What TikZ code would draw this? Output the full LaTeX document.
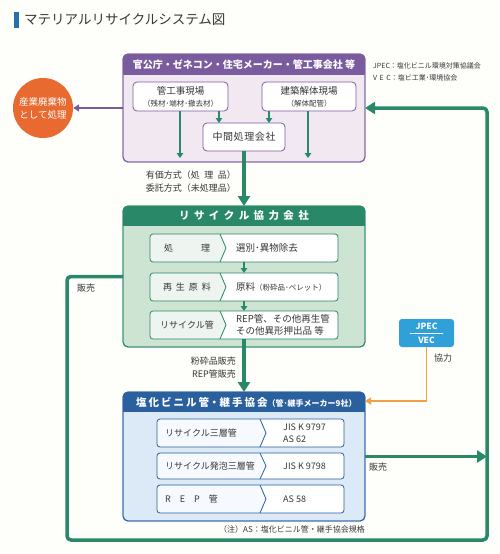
\documentclass[tikz,border=0pt]{standalone}
\usepackage{fontspec}
\setmainfont{Noto Sans CJK JP}
\usetikzlibrary{arrows.meta, positioning, calc}

\definecolor{bg}{RGB}{254,254,251}
\definecolor{txt}{RGB}{55,55,55}
\definecolor{titleblue}{RGB}{40,110,170}
\definecolor{purpleD}{RGB}{122,92,158}
\definecolor{purpleL}{RGB}{242,232,242}
\definecolor{greenD}{RGB}{40,136,104}
\definecolor{greenL}{RGB}{206,228,211}
\definecolor{rowL}{RGB}{238,244,239}
\definecolor{blueD}{RGB}{42,96,158}
\definecolor{blueL}{RGB}{220,234,247}
\definecolor{blueR}{RGB}{246,250,254}
\definecolor{orangeC}{RGB}{232,106,48}
\definecolor{orangeA}{RGB}{240,160,70}
\definecolor{jpecblue}{RGB}{48,160,216}

\tikzset{
  grp/.style={draw, line width=0.9pt, rounded corners=5pt, inner sep=0pt, outer sep=0pt},
  hdr/.style={text=white, inner sep=0pt, font=\fontsize{10.5}{12}\selectfont\bfseries},
  itembox/.style={draw=purpleD, fill=white, line width=0.8pt, rounded corners=4pt, align=center,
    inner sep=0pt, outer sep=0pt, text=txt, font=\fontsize{9.5}{12}\selectfont},
  lbl/.style={text=txt, inner sep=0pt, font=\fontsize{9}{13}\selectfont},
  flowarrow/.style={draw=greenD, line width=1.4pt, -{Triangle[length=5pt,width=6.5pt]}},
  bigflow/.style={draw=greenD, line width=3.5pt, -{Triangle[length=10pt,width=12pt]}},
  rowline/.style={line width=0.8pt, rounded corners=3pt}
}

\begin{document}
\begin{tikzpicture}[x=1pt, y=-1pt]
\useasboundingbox (0,0) rectangle (500,554);
\fill[bg] (0,0) rectangle (500,554);

% Title
\fill[titleblue] (14,12) rectangle (19,28);
\node[anchor=west, inner sep=0pt, text=txt, font=\fontsize{13.5}{15}\selectfont] (title) at (24,20) {マテリアルリサイクルシステム図};

% Legend
\node[lbl, anchor=west, align=left, font=\fontsize{7}{12}\selectfont] (legend) at (373,72)
  {JPEC：塩化ビニル環境対策協議会\\V\hspace{2.5pt}E\hspace{2.5pt}C：塩ビ工業･環境協会};

% Top group
\node[grp, draw=purpleD, fill=purpleL, minimum width=242pt, minimum height=108pt] (topbox) at (244,108) {};
\begin{scope}
  \clip[rounded corners=5pt] (topbox.north west) rectangle (topbox.south east);
  \fill[purpleD] (topbox.north west) rectangle ([yshift=-21pt]topbox.north east);
\end{scope}
\draw[purpleD, line width=0.9pt, rounded corners=5pt] (topbox.north west) rectangle (topbox.south east);
\node[hdr, font=\fontsize{10}{12}\selectfont\bfseries] (toptitle) at ([yshift=-10.5pt]topbox.north) {官公庁・ゼネコン・住宅メーカー・管工事会社 等};

\node[itembox, minimum width=95pt, minimum height=29pt] (genba) at (180.5,96.5)
  {管工事現場\\{\fontsize{7.5}{9}\selectfont （残材･端材･撤去材）}};
\node[itembox, minimum width=94pt, minimum height=29pt] (kaitai) at (309,96.5)
  {建築解体現場\\{\fontsize{7.5}{9}\selectfont （解体配管）}};
\node[itembox, minimum width=82pt, minimum height=28pt, font=\fontsize{10}{12}\selectfont] (chukan) at (244,137)
  {中\hspace{0.6pt}間\hspace{0.6pt}処\hspace{0.6pt}理\hspace{0.6pt}会\hspace{0.6pt}社};

% Waste circle
\node[circle, fill=orangeC, minimum size=60pt, inner sep=0pt, text=white, align=center,
  font=\fontsize{9.5}{13}\selectfont] (sanpai) at (43,108) {産業廃棄物\\として処理};

% Recycle company group
\node[grp, draw=greenD, fill=greenL, minimum width=242pt, minimum height=141pt] (recbox) at (244,276.5) {};
\begin{scope}
  \clip[rounded corners=5pt] (recbox.north west) rectangle (recbox.south east);
  \fill[greenD] (recbox.north west) rectangle ([yshift=-20pt]recbox.north east);
\end{scope}
\draw[greenD, line width=0.9pt, rounded corners=5pt] (recbox.north west) rectangle (recbox.south east);
\node[hdr] (rectitle) at ([yshift=-10pt]recbox.north)
  {リ\hspace{4.4pt}サ\hspace{4.4pt}イ\hspace{4.4pt}ク\hspace{4.4pt}ル\hspace{4.4pt}協\hspace{4.4pt}力\hspace{4.4pt}会\hspace{4.4pt}社};

\foreach \n/\y in {r1/248, r2/287, r3/325} {
  \node[minimum width=188pt, minimum height=28pt, inner sep=0pt, outer sep=0pt] (\n) at (244,\y) {};
  \begin{scope}
    \clip[rounded corners=3pt] (\n.north west) rectangle (\n.south east);
    \fill[white] (\n.north west) rectangle (\n.south east);
    \fill[rowL] (\n.north west) -- (220,\y-14) -- (226,\y) -- (220,\y+14) -- (\n.south west) -- cycle;
  \end{scope}
  \draw[greenD, line width=0.8pt] (220,\y-14) -- (226,\y) -- (220,\y+14);
  \draw[greenD, rowline] (\n.north west) rectangle (\n.south east);
}
\node[lbl] (r1a) at (187,248) {処\hspace{28pt}理};
\node[lbl] (r2a) at (187,287) {再\hspace{4pt}生\hspace{4pt}原\hspace{4pt}料};
\node[lbl] (r3a) at (187,325) {リサイクル管};
\node[lbl, anchor=west, font=\fontsize{9.5}{12}\selectfont] (r1b) at (236,248) {選別･異物除去};
\node[lbl, anchor=west, font=\fontsize{9.5}{12}\selectfont] (r2b) at (236,287) {原料{\fontsize{7.5}{9}\selectfont （粉砕品･ペレット）}};
\node[lbl, anchor=west, align=left, font=\fontsize{9.5}{12}\selectfont] (r3b) at (236,325) {REP管、その他再生管\\その他異形押出品 等};

% Pipe association group
\node[grp, draw=blueD, fill=blueL, minimum width=242pt, minimum height=129pt] (pipebox) at (244,456.5) {};
\begin{scope}
  \clip[rounded corners=5pt] (pipebox.north west) rectangle (pipebox.south east);
  \fill[blueD] (pipebox.north west) rectangle ([yshift=-20pt]pipebox.north east);
\end{scope}
\draw[blueD, line width=0.9pt, rounded corners=5pt] (pipebox.north west) rectangle (pipebox.south east);
\node[hdr, anchor=west] (pipetitle) at (136,402)
  {塩\hspace{2pt}化\hspace{2pt}ビ\hspace{2pt}ニ\hspace{2pt}ル\hspace{2pt}管・継\hspace{2pt}手\hspace{2pt}協\hspace{2pt}会{\fontsize{8}{9}\selectfont （管･継手メーカー9社）}};

\foreach \n/\y/\h in {p1/433/28, p2/466/26, p3/499/28} {
  \node[minimum width=187pt, minimum height=\h pt, inner sep=0pt, outer sep=0pt] (\n) at (250.5,\y) {};
  \begin{scope}
    \clip[rounded corners=3pt] (\n.north west) rectangle (\n.south east);
    \fill[white] (\n.north west) rectangle (\n.south east);
    \fill[blueR] (\n.north west) -- (260,\y-\h/2) -- (266,\y) -- (260,\y+\h/2) -- (\n.south west) -- cycle;
  \end{scope}
  \draw[blueD, line width=0.8pt] (260,\y-\h/2) -- (266,\y) -- (260,\y+\h/2);
  \draw[blueD, rowline] (\n.north west) rectangle (\n.south east);
}
\node[lbl, anchor=west] (p1a) at (165,433) {リサイクル三層管};
\node[lbl, anchor=west] (p2a) at (165,466) {リサイクル発泡三層管};
\node[lbl, anchor=west] (p3a) at (165,499) {R\hspace{9pt}E\hspace{9pt}P\hspace{9pt}管};
\node[lbl, anchor=west, align=left, font=\fontsize{9}{11.5}\selectfont] (p1b) at (283,433) {JIS K 9797\\AS 62};
\node[lbl, anchor=west, font=\fontsize{9}{11}\selectfont] (p2b) at (283,466) {JIS K 9798};
\node[lbl, anchor=west, font=\fontsize{9}{11}\selectfont] (p3b) at (283,499) {AS\hspace{2pt}58};

% Note
\node[lbl, anchor=east, font=\fontsize{8}{9}\selectfont] (note) at (365,529) {（注）AS：塩化ビニル管・継手協会規格};

% JPEC / VEC
\node[fill=jpecblue, rounded corners=3pt, minimum width=55pt, minimum height=28pt, inner sep=0pt] (jpec) at (426.5,333) {};
\node[text=white, inner sep=0pt, font=\fontsize{8.5}{9}\selectfont\bfseries] (jpecA) at (426.5,326.5) {JPEC};
\node[text=white, inner sep=0pt, font=\fontsize{8.5}{9}\selectfont\bfseries] (jpecB) at (426.5,340) {VEC};
\draw[white, line width=0.7pt] (410,333) -- (443,333);
\node[lbl] (kyoryoku) at (443,358) {協力};

% Labels
\node[lbl, anchor=east, align=right] (yuka) at (236,181.5) {有価方式（処\hspace{4.5pt}理\hspace{4.5pt}品）\\委託方式（未処理品）};
\node[lbl, anchor=east, align=right] (hanbai1) at (236,368) {粉砕品販売\\REP管販売};
\node[lbl] (hanbai2) at (86,288) {販売};
\node[lbl] (hanbai3) at (378,467) {販売};

% Flows in top group
\coordinate (outL) at (180,158);
\coordinate (outR) at (308,158);
\draw[flowarrow] (genba.south -| outL) -- (outL);
\draw[flowarrow] (kaitai.south -| outR) -- (outR);
\draw[flowarrow] ([xshift=38.5pt]genba.south) -- ([xshift=-25pt]chukan.north);
\draw[flowarrow] ([xshift=-40pt]kaitai.south) -- ([xshift=25pt]chukan.north);
\draw[draw=purpleD, line width=1.5pt, -{Triangle[length=6pt,width=7pt]}] (topbox.west) -- (sanpai.east);

% Flows between rows
\draw[flowarrow] (r1.south) -- (r2.north);
\draw[flowarrow] (r2.south) -- (r3.north);
\draw[bigflow] (chukan.south) -- (recbox.north);
\draw[bigflow] (r3.south) -- (pipebox.north);

% Sales loop
\coordinate (cBL) at (67,540);
\coordinate (cBR) at (487,540);
\draw[bigflow, rounded corners=4pt] (recbox.west) -| (cBL) -- (cBR) |- (topbox.east);
\draw[bigflow] (pipebox.east) -- (pipebox.east -| cBR);

% Cooperation
\coordinate (kyo) at (365,401);
\draw[draw=orangeA, line width=1.6pt, -{Triangle[length=6pt,width=7pt]}] (jpec.south) |- (kyo);

\end{tikzpicture}
\end{document}
